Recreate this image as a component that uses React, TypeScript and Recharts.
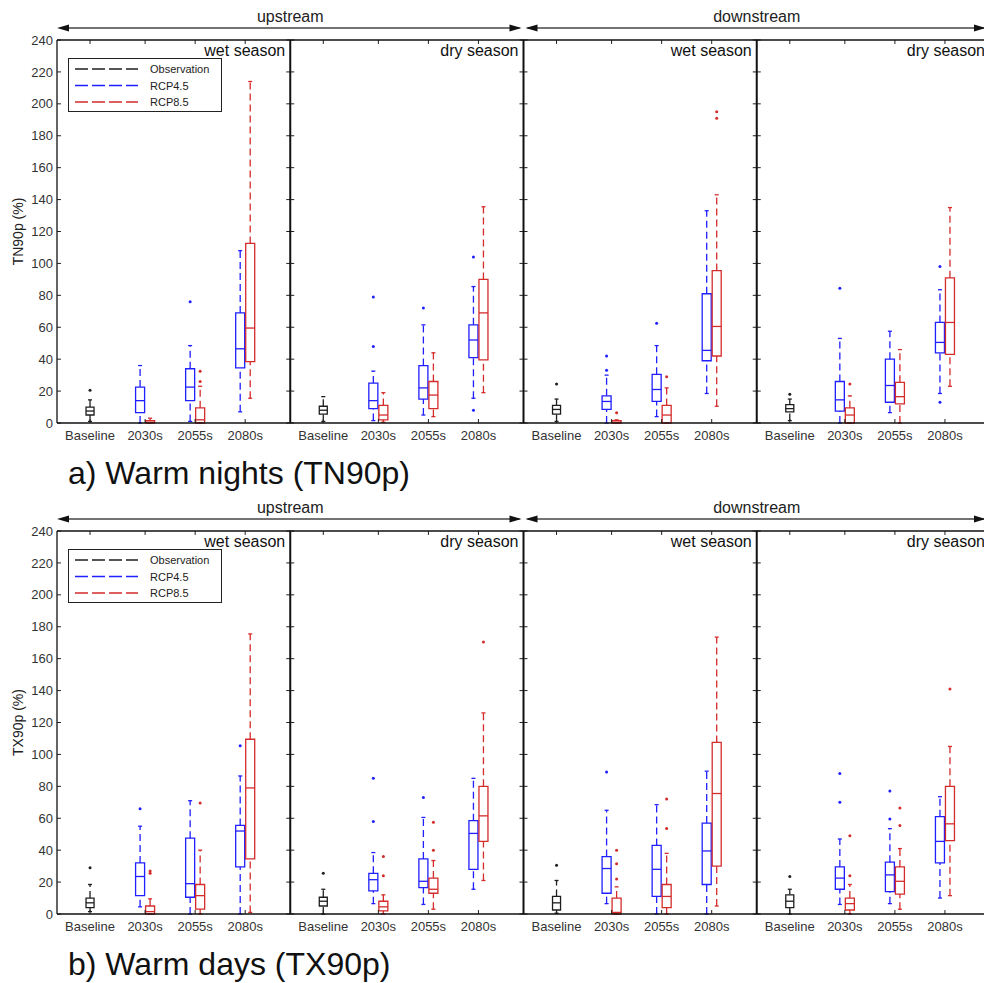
import React from 'react'
import {
  ComposedChart, XAxis, YAxis, Scatter, ReferenceArea, ReferenceLine, Legend,
} from 'recharts'

// [lower whisker, q1, median, q3, upper whisker]
type Box = [number, number, number, number, number]

const categories = ['Baseline', '2030s', '2055s', '2080s']
const seasons = ['wet season', 'dry season', 'wet season', 'dry season']
const reaches = ['upstream', 'downstream']
const seriesNames = ['Observation', 'RCP4.5', 'RCP8.5']
const yTicks = [0, 20, 40, 60, 80, 100, 120, 140, 160, 180, 200, 220, 240]

// a) Warm nights (TN90p) — one entry per sub-panel, RCP rows are 2030s / 2055s / 2080s
const tn90pObs: Box[] = [
  [1, 5, 7.5, 10, 14.5],
  [1, 5.5, 8, 10.5, 16.5],
  [1, 5.5, 8.5, 11, 15],
  [1.5, 7, 9, 11.5, 15],
]
const tn90pObsOut = [[20.5], [], [24.5], [18]]
const tn90pRcp45: Box[][] = [
  [[0, 6.5, 14, 22.5, 36], [1, 14, 22.5, 34, 48.5], [7, 34.5, 46.5, 69, 108]],
  [[1.5, 9, 14, 25, 32.5], [5, 15, 22, 36, 61.5], [15.5, 41, 52, 61.5, 85.5]],
  [[0, 8.5, 13.5, 17, 30], [4, 13.5, 21, 30.5, 48.5], [18.5, 39, 45.5, 81, 133]],
  [[0, 7.5, 14.5, 26, 53], [6.5, 13, 23.5, 40, 57.5], [18.5, 44, 50.5, 63, 83.5]],
]
const tn90pRcp45Out = [
  [[], [76], []],
  [[48, 79], [72], [8, 104]],
  [[33, 42], [62.5], []],
  [[84.5], [], [13, 98]],
]
const tn90pRcp85: Box[][] = [
  [[0, 0, 0.5, 1.5, 3], [0, 0, 2, 9.5, 23], [15.5, 38.5, 59.5, 112.5, 214]],
  [[0.5, 2, 5, 11, 19], [4, 9, 17.5, 26, 44], [19, 39.5, 69, 90, 135.5]],
  [[0, 0, 0.5, 1.5, 2], [0, 0, 5, 11, 22], [10.5, 42, 60.5, 95.5, 143]],
  [[0, 0, 5, 9.5, 17], [0, 12, 16.5, 25.5, 46], [23, 43, 63, 91, 135]],
]
const tn90pRcp85Out = [
  [[], [26, 32.5], []],
  [[], [], []],
  [[6.5], [29], [191, 195]],
  [[24.5], [], []],
]

// b) Warm days (TX90p)
const tx90pObs: Box[] = [
  [1.5, 4, 7, 10, 18.5],
  [0, 5, 8, 10.5, 15.5],
  [0.5, 2.5, 7, 11, 21],
  [0, 4, 8, 12, 15.5],
]
const tx90pObsOut = [[29], [25.5], [30.5], [23.5]]
const tx90pRcp45: Box[][] = [
  [[4.5, 11.5, 23.5, 32, 55], [0, 10.5, 19, 47.5, 71], [0, 29.5, 52, 55.5, 86.5]],
  [[6.5, 14.5, 21.5, 25.5, 38.5], [6, 16.5, 20.5, 34.5, 60.5], [15.5, 28, 50.5, 58.5, 85]],
  [[6.5, 13, 28.5, 36, 65], [0, 11, 28, 43, 68.5], [0, 18.5, 39.5, 57, 89.5]],
  [[6, 15.5, 22.5, 29.5, 47], [6.5, 14, 24.5, 32.5, 53.5], [10, 32, 45.5, 61, 73.5]],
]
const tx90pRcp45Out = [
  [[66], [], [105.5]],
  [[58, 85], [73], []],
  [[89], [], []],
  [[70, 88], [59.5, 77], []],
]
const tx90pRcp85: Box[][] = [
  [[0, 0, 1.5, 5, 9.5], [0, 3, 11.5, 18.5, 40], [1, 34.5, 79, 109.5, 175.5]],
  [[0, 2, 4.5, 8, 12], [3, 13, 15.5, 22.5, 33.5], [21, 45.5, 61.5, 80, 126]],
  [[0, 0, 1, 10, 17], [0, 4, 11, 18.5, 38], [5, 30, 75.5, 107.5, 173.5]],
  [[0, 2.5, 6.5, 10, 18.5], [3, 12.5, 20.5, 29.5, 41], [11.5, 46, 56.5, 80, 105]],
]
const tx90pRcp85Out = [
  [[25.5, 27], [69.5], []],
  [[24, 36], [40, 57.5], [170.5]],
  [[22, 31.5, 40], [53.5, 72], []],
  [[24, 49], [55.5, 66.5], [141]],
]

const colors = ['#1e1e1e', '#1f1fff', '#d42b2b']
const FONT = '"Liberation Sans", Arial, sans-serif'

// x layout: four sub-panels side by side on one numeric axis
const X0 = 0.34
const SPAN = 4.66
const CAT_POS = [1, 2.1, 3.1, 4.1]
const X_MAX = X0 + 4 * SPAN
const OFFSET = 0.1
const HALF = 0.09
const CAP = 0.04
const TICK_X = 0.08
const TICK_Y = 2.5

const PLOT_LEFT = 57
const PLOT_RIGHT = 990
const PLOT_TOP = 40
const PLOT_BOTTOM = 423

const boundaries = [0, 1, 2, 3, 4].map((s) => X0 + s * SPAN)
const tickPositions = seasons.flatMap((_, s) => CAT_POS.map((p) => s * SPAN + p))

function boxMarks(id: string, x: number, half: number, b: Box, color: string) {
  const [lo, q1, med, q3, hi] = b
  const st = { stroke: color, strokeWidth: 1.3 }
  return [
    <ReferenceLine key={id + 'wl'} segment={[{ x, y: lo }, { x, y: q1 }]} {...st} strokeDasharray="7 4" />,
    <ReferenceLine key={id + 'wh'} segment={[{ x, y: q3 }, { x, y: hi }]} {...st} strokeDasharray="7 4" />,
    <ReferenceLine key={id + 'cl'} segment={[{ x: x - CAP, y: lo }, { x: x + CAP, y: lo }]} {...st} />,
    <ReferenceLine key={id + 'ch'} segment={[{ x: x - CAP, y: hi }, { x: x + CAP, y: hi }]} {...st} />,
    <ReferenceArea key={id + 'bx'} x1={x - half} x2={x + half} y1={q1} y2={q3} fill="none" fillOpacity={0} {...st} />,
    <ReferenceLine key={id + 'md'} segment={[{ x: x - half, y: med }, { x: x + half, y: med }]} {...st} />,
  ]
}

function LegendBox() {
  return (
    <div style={{ width: 154, height: 54, border: '1.3px solid #222', background: '#fff', boxSizing: 'border-box' }}>
      <svg width={151} height={51}>
        {seriesNames.map((name, i) => (
          <g key={name}>
            <line x1={6} x2={69} y1={10 + i * 16.5} y2={10 + i * 16.5} stroke={colors[i]} strokeWidth={1.4} strokeDasharray="13 4" />
            <text x={81} y={10 + i * 16.5} fontSize={11} fill="#222" dominantBaseline="central" fontFamily={FONT}>{name}</text>
          </g>
        ))}
      </svg>
    </div>
  )
}

type PanelProps = {
  top: number
  caption: string
  yLabel: string
  obs: Box[]
  obsOut: number[][]
  rcp45: Box[][]
  rcp45Out: number[][][]
  rcp85: Box[][]
  rcp85Out: number[][][]
}

function Panel({ top, caption, yLabel, obs, obsOut, rcp45, rcp45Out, rcp85, rcp85Out }: PanelProps) {
  const obsPts = obsOut.flatMap((vals, s) => vals.map((y) => ({ x: s * SPAN + CAT_POS[0], y })))
  const r45Pts = rcp45Out.flatMap((per, s) => per.flatMap((vals, k) => vals.map((y) => ({ x: s * SPAN + CAT_POS[k + 1] - OFFSET, y }))))
  const r85Pts = rcp85Out.flatMap((per, s) => per.flatMap((vals, k) => vals.map((y) => ({ x: s * SPAN + CAT_POS[k + 1] + OFFSET, y }))))

  const marks: React.ReactNode[] = []
  seasons.forEach((season, s) => {
    marks.push(
      <ReferenceArea
        key={`season-${s}`}
        x1={boundaries[s]}
        x2={boundaries[s + 1]}
        y1={0}
        y2={240}
        fill="none"
        stroke="none"
        label={{ value: season, position: 'insideTopRight', offset: 5, fontSize: 16, fill: '#111' }}
      />,
    )
    marks.push(...boxMarks(`o${s}`, s * SPAN + CAT_POS[0], 0.08, obs[s], colors[0]))
    rcp45[s].forEach((b, k) => marks.push(...boxMarks(`a${s}${k}`, s * SPAN + CAT_POS[k + 1] - OFFSET, HALF, b, colors[1])))
    rcp85[s].forEach((b, k) => marks.push(...boxMarks(`b${s}${k}`, s * SPAN + CAT_POS[k + 1] + OFFSET, HALF, b, colors[2])))
  })

  // inward tick marks on every sub-panel edge
  boundaries.forEach((bx, s) => {
    yTicks.forEach((t) => {
      if (s < 4) marks.push(<ReferenceLine key={`tl${s}-${t}`} segment={[{ x: bx, y: t }, { x: bx + TICK_X, y: t }]} stroke="#222" />)
      if (s > 0) marks.push(<ReferenceLine key={`tr${s}-${t}`} segment={[{ x: bx - TICK_X, y: t }, { x: bx, y: t }]} stroke="#222" />)
    })
  })
  tickPositions.forEach((p, i) => {
    marks.push(<ReferenceLine key={`tb${i}`} segment={[{ x: p, y: 0 }, { x: p, y: TICK_Y }]} stroke="#222" />)
    marks.push(<ReferenceLine key={`tt${i}`} segment={[{ x: p, y: 240 - TICK_Y }, { x: p, y: 240 }]} stroke="#222" />)
  })
  boundaries.slice(1).forEach((bx, i) => {
    marks.push(<ReferenceLine key={`div${i}`} x={bx} stroke="#111" strokeWidth={2} />)
  })
  marks.push(<ReferenceLine key="topline" y={240} stroke="#111" strokeWidth={1.3} />)

  const mid = (PLOT_LEFT + PLOT_RIGHT) / 2
  const arrowY = 28
  const head = (tip: number, dir: number) =>
    `${tip},${arrowY} ${tip - dir * 12},${arrowY - 3.5} ${tip - dir * 12},${arrowY + 3.5}`

  return (
    <div style={{ position: 'absolute', left: 0, top, width: 1000, height: 492 }}>
      <ComposedChart width={1000} height={460} margin={{ top: PLOT_TOP, right: 1000 - PLOT_RIGHT, bottom: 7, left: 0 }}>
        <XAxis
          type="number"
          dataKey="x"
          domain={[X0, X_MAX]}
          allowDataOverflow
          ticks={tickPositions}
          interval={0}
          tickFormatter={(_v: number, i: number) => categories[i % 4]}
          tick={{ fontSize: 13, fill: '#333' }}
          tickLine={false}
          axisLine={{ stroke: '#111', strokeWidth: 1.3 }}
          height={30}
        />
        <YAxis
          type="number"
          dataKey="y"
          domain={[0, 240]}
          allowDataOverflow
          ticks={yTicks}
          interval={0}
          tick={{ fontSize: 13, fill: '#333' }}
          tickLine={false}
          tickSize={2}
          tickMargin={2}
          axisLine={{ stroke: '#111', strokeWidth: 1.3 }}
          width={PLOT_LEFT}
        />
        {marks}
        {[obsPts, r45Pts, r85Pts].map((pts, i) => (
          <Scatter
            key={seriesNames[i]}
            name={seriesNames[i]}
            data={pts}
            isAnimationActive={false}
            shape={(p: { cx?: number; cy?: number }) => <circle cx={p.cx} cy={p.cy} r={1.5} fill={colors[i]} />}
          />
        ))}
        <Legend
          content={<LegendBox />}
          layout="horizontal"
          verticalAlign="middle"
          align="center"
          wrapperStyle={{ position: 'absolute', left: 68, top: 58, width: 154, height: 54 }}
        />
      </ComposedChart>
      <svg width={1000} height={492} style={{ position: 'absolute', left: 0, top: 0, pointerEvents: 'none' }}>
        <line x1={PLOT_LEFT + 4} x2={mid - 4} y1={arrowY} y2={arrowY} stroke="#444" strokeWidth={1.3} />
        <polygon points={head(PLOT_LEFT, -1)} fill="#111" />
        <polygon points={head(mid - 2, 1)} fill="#111" />
        <line x1={mid + 4} x2={PLOT_RIGHT} y1={arrowY} y2={arrowY} stroke="#444" strokeWidth={1.3} />
        <polygon points={head(mid + 2, -1)} fill="#111" />
        <polygon points={head(986, 1)} fill="#111" />
        <text x={(PLOT_LEFT + mid) / 2} y={16} fontSize={16} textAnchor="middle" dominantBaseline="central" fill="#222">{reaches[0]}</text>
        <text x={(mid + PLOT_RIGHT) / 2} y={16} fontSize={16} textAnchor="middle" dominantBaseline="central" fill="#222">{reaches[1]}</text>
        <text
          x={18}
          y={(PLOT_TOP + PLOT_BOTTOM) / 2}
          fontSize={14}
          textAnchor="middle"
          dominantBaseline="central"
          fill="#222"
          transform={`rotate(-90 18 ${(PLOT_TOP + PLOT_BOTTOM) / 2})`}
        >
          {yLabel}
        </text>
        <text x={68} y={484} fontSize={32} fill="#111">{caption}</text>
      </svg>
    </div>
  )
}

export default function App() {
  return (
    <div style={{ position: 'absolute', left: 0, top: 0, width: 984, height: 983, overflow: 'hidden', background: '#fff', fontFamily: FONT }}>
      <Panel
        top={0}
        caption="a) Warm nights (TN90p)"
        yLabel="TN90p (%)"
        obs={tn90pObs}
        obsOut={tn90pObsOut}
        rcp45={tn90pRcp45}
        rcp45Out={tn90pRcp45Out}
        rcp85={tn90pRcp85}
        rcp85Out={tn90pRcp85Out}
      />
      <Panel
        top={491}
        caption="b) Warm days (TX90p)"
        yLabel="TX90p (%)"
        obs={tx90pObs}
        obsOut={tx90pObsOut}
        rcp45={tx90pRcp45}
        rcp45Out={tx90pRcp45Out}
        rcp85={tx90pRcp85}
        rcp85Out={tx90pRcp85Out}
      />
    </div>
  )
}
